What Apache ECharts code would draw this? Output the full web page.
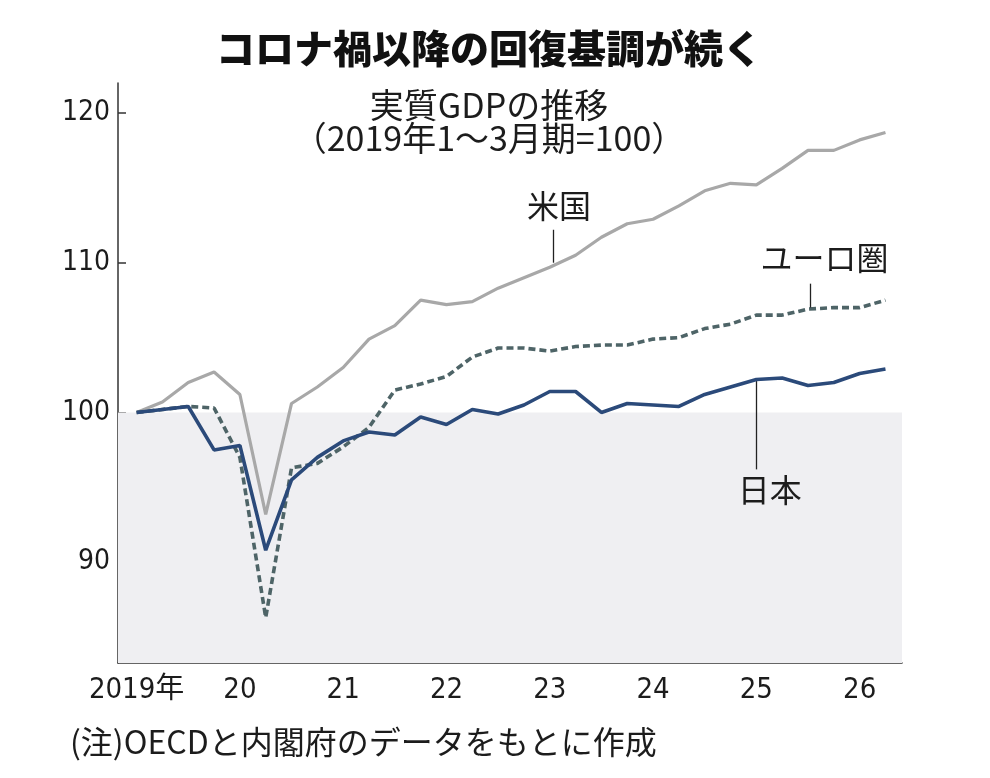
<!DOCTYPE html>
<html>
<head>
<meta charset="utf-8">
<title>コロナ禍以降の回復基調が続く</title>
<script src="https://cdn.jsdelivr.net/npm/echarts@6/dist/echarts.min.js"></script>
<style>
  html, body { margin: 0; padding: 0; background: #fff; }
  #chart { width: 990px; height: 778px; }
</style>
</head>
<body>
<div id="chart"></div>
<script>
// 四半期 (2019年1～3月期 = 100)
var quarters = [
  '2019Q1','2019Q2','2019Q3','2019Q4',
  '2020Q1','2020Q2','2020Q3','2020Q4',
  '2021Q1','2021Q2','2021Q3','2021Q4',
  '2022Q1','2022Q2','2022Q3','2022Q4',
  '2023Q1','2023Q2','2023Q3','2023Q4',
  '2024Q1','2024Q2','2024Q3','2024Q4',
  '2025Q1','2025Q2','2025Q3','2025Q4',
  '2026Q1','2026Q2'
];
var usGdp = [100.0, 100.7, 102.0, 102.7, 101.2, 93.2, 100.6, 101.7, 103.0, 104.9,
             105.8, 107.5, 107.2, 107.4, 108.3, 109.0, 109.7, 110.5, 111.7, 112.6,
             112.9, 113.8, 114.8, 115.3, 115.2, 116.3, 117.5, 117.5, 118.2, 118.7];
var euroGdp = [100.0, 100.2, 100.4, 100.3, 97.0, 86.3, 96.3, 96.6, 97.7, 99.0,
               101.5, 101.9, 102.4, 103.7, 104.3, 104.3, 104.1, 104.4, 104.5, 104.5,
               104.9, 105.0, 105.6, 105.9, 106.5, 106.5, 106.9, 107.0, 107.0, 107.5];
var japanGdp = [100.0, 100.2, 100.4, 97.5, 97.8, 90.8, 95.5, 97.0, 98.1, 98.7,
                98.5, 99.7, 99.2, 100.2, 99.9, 100.5, 101.4, 101.4, 100.0, 100.6,
                100.5, 100.4, 101.2, 101.7, 102.2, 102.3, 101.8, 102.0, 102.6, 102.9];
var yearTicks = [2019, 2020, 2021, 2022, 2023, 2024, 2025, 2026];
var valueTicks = [90, 100, 110, 120];

// 四半期ラベル -> 年の小数値
function qx(label) {
  return parseInt(label.slice(0, 4), 10) + (parseInt(label.slice(5), 10) - 1) / 4;
}
function pairs(values) {
  return quarters.map(function (q, i) { return [qx(q), values[i]]; });
}

var X_MIN = 2018.82, X_MAX = 2026.41, Y_MIN = 83.27, Y_MAX = 122;
var numFont = "'Liberation Sans Narrow', 'DejaVu Sans Condensed', 'Noto Sans CJK JP', sans-serif";
var jpFont = "'Noto Sans CJK JP', sans-serif";
var ink = '#1c1c1c';

function leader(x, y1, y2) {
  return {
    silent: true,
    symbol: 'none',
    label: { show: false },
    lineStyle: { color: '#222', width: 1.3, type: 'solid' },
    data: [[{ coord: [x, y1] }, { coord: [x, y2] }]]
  };
}
function tag(text, x, y) {
  return {
    silent: true,
    symbol: 'circle',
    symbolSize: 1,
    itemStyle: { color: 'rgba(0,0,0,0)' },
    label: {
      show: true, position: 'inside', formatter: text,
      fontFamily: jpFont, fontSize: 32, color: ink
    },
    data: [{ coord: [x, y] }]
  };
}

var chart = echarts.init(document.getElementById('chart'));
chart.setOption({
  animation: false,
  backgroundColor: '#fff',
  title: [{
    text: 'コロナ禍以降の回復基調が続く',
    left: 484, top: 24, textAlign: 'center',
    textStyle: { fontFamily: jpFont, fontSize: 39, fontWeight: 900, color: '#111' }
  }, {
    text: '実質GDPの推移\n（2019年1～3月期=100）',
    left: 484, top: 84, textAlign: 'center',
    textStyle: { fontFamily: jpFont, fontSize: 34, fontWeight: 'normal', color: ink, lineHeight: 33 }
  }],
  graphic: [{
    type: 'text', left: 70, top: 726,
    style: { text: '(注)OECDと内閣府のデータをもとに作成', font: '32px ' + jpFont, fill: ink }
  }],
  grid: { left: 118, right: 88, top: 83, bottom: 115 },
  xAxis: {
    type: 'value', min: X_MIN, max: X_MAX,
    axisLine: { show: true, lineStyle: { color: '#333', width: 1.5 } },
    axisTick: { show: true, inside: true, length: 7, customValues: yearTicks, lineStyle: { color: '#333', width: 1.5 } },
    axisLabel: {
      customValues: yearTicks, margin: 13,
      fontFamily: numFont, fontSize: 29, color: ink,
      formatter: function (v) { return v === 2019 ? '2019年' : String(v).slice(2); }
    },
    splitLine: { show: false }
  },
  yAxis: {
    type: 'value', min: Y_MIN, max: Y_MAX,
    axisLine: { show: true, lineStyle: { color: '#333', width: 1.5 } },
    axisTick: { show: true, inside: true, length: 8, customValues: valueTicks, lineStyle: { color: '#333', width: 1.5 } },
    axisLabel: { customValues: valueTicks, margin: 8, fontFamily: numFont, fontSize: 28, color: ink },
    splitLine: { show: false }
  },
  series: [{
    name: '米国', type: 'line', data: pairs(usGdp),
    symbol: 'none', z: 3,
    lineStyle: { color: '#a8a8a8', width: 3.2 },
    markArea: {
      silent: true,
      itemStyle: { color: '#efeff2' },
      data: [[{ yAxis: 100 }, { yAxis: Y_MIN }]]
    },
    markLine: leader(2023.03, 112.2, 110.0)
  }, {
    name: 'ユーロ圏', type: 'line', data: pairs(euroGdp),
    symbol: 'none', z: 4,
    lineStyle: { color: '#4e6467', width: 3.6, type: [7, 4] },
    markLine: leader(2025.52, 108.6, 107.0)
  }, {
    name: '日本', type: 'line', data: pairs(japanGdp),
    symbol: 'none', z: 5,
    lineStyle: { color: '#2b4a7a', width: 3.6 },
    markLine: leader(2025.0, 102.2, 96.2)
  }, {
    name: 'labels', type: 'line', data: [], z: 6,
    markPoint: tag('米国', 2023.09, 113.8)
  }, {
    name: 'labels2', type: 'line', data: [], z: 6,
    markPoint: tag('ユーロ圏', 2025.66, 110.3)
  }, {
    name: 'labels3', type: 'line', data: [], z: 6,
    markPoint: tag('日本', 2025.13, 94.8)
  }]
});
</script>
</body>
</html>
